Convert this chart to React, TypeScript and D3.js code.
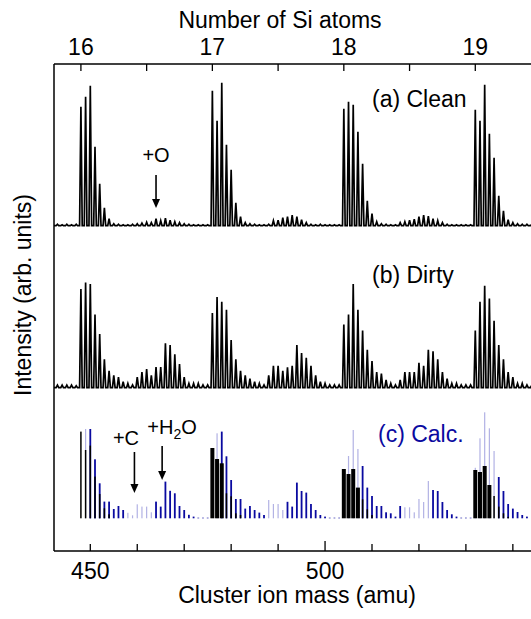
import React from 'react';
import * as d3 from 'd3';

// ---------- data ----------
const massStart = 443; // first mass (amu) of the spectra arrays

// (a) Clean spectrum, intensity per integer mass from 443 amu
const cleanIntensity = [
  1.5, 1, 1.5, 1, 1.5,
  119, 129, 140, 79, 42, 18, 7,
  2, 1.5, 1, 1, 1.5,
  2, 2.5, 3.5, 3, 7, 5, 7.5, 5.5, 4, 3, 2, 1.5, 1, 1, 1, 1,
  135, 105, 143, 81, 56, 23, 9,
  3, 2, 1.5, 1, 1, 1.5,
  5, 5.5, 8, 9, 10.5, 9, 6, 3, 1.5, 1, 1.5, 1, 1, 1, 1,
  117, 124, 121, 94, 62, 25, 12,
  4, 2, 1.5, 1, 1,
  3, 4, 5.5, 6.5, 9, 10.5, 9.5, 7, 5, 3, 1.5, 1, 1, 1, 1, 1,
  116, 105, 141, 92, 68, 30, 15,
  6, 3, 2, 1.5, 1.5, 1,
];

// (b) Dirty spectrum, intensity per integer mass from 443 amu
const dirtyIntensity = [
  2.5, 2.5, 2.5, 2.5, 2,
  98.7, 105.3, 103.7, 73.3, 53.7, 28.3, 17, 12.3, 10.7, 6, 4.3, 2.7,
  10.7, 15.7, 18.7, 12.3, 20.7, 20.7, 44.3, 42.7, 33.3, 23.7, 10.7, 4.3, 4.3, 4.3, 2.7, 2.7,
  74.7, 90.7, 86, 78, 47.7, 28.3, 17, 12.3, 9, 6, 4.3, 2.7,
  12.3, 22, 22, 17, 20.3, 22, 42.7, 34.7, 30, 22, 12.3, 6, 4.3, 2.7, 2.7, 2.7,
  63.3, 73.3, 103.7, 78, 57.3, 38, 26.7, 15.7, 14, 7.7, 4.3, 2.7,
  7.7, 15.7, 15.7, 15.7, 25, 22, 38, 36.3, 28.3, 15.7, 9, 4.3, 4.3, 2.7, 2.7, 2.7,
  57.3, 86, 102, 89.3, 67, 42.7, 28.3, 15.7, 10.7, 4.3, 4.3, 2.7, 2,
];

// (c) Calculated bars: [mass, intensity]
const calcSi: [number, number][] = [
  [448, 86.7], [449, 68.3], [450, 72.7], [451, 41.7], [452, 24.3], [453, 10], [454, 4],
  [476, 70.3], [477, 59.3], [478, 55], [479, 25], [480, 22], [481, 5], [482, 3.3],
  [504, 49.3], [505, 44.3], [506, 49.3], [507, 30.7], [508, 19], [509, 9], [510, 3.3],
  [532, 48.3], [533, 46.3], [534, 52.3], [535, 33.3], [536, 22.3], [537, 11.7], [538, 5], [539, 1.5],
];
const calcH2O: [number, number][] = [
  [450, 89.3], [451, 59], [452, 35], [453, 16.7], [454, 16.7], [455, 9.3], [456, 12.3], [457, 8.3],
  [464, 16.7], [465, 11.7], [466, 36.7], [467, 27.5], [468, 25], [469, 12.3], [470, 8.3], [471, 3.5],
  [472, 1.7], [473, 0.6], [474, 0.6], [475, 0.6],
  [478, 86.7], [479, 62], [480, 38.3], [481, 19.3], [482, 19.3], [483, 9.7], [484, 12.3], [485, 8.3],
  [486, 5.7], [487, 3.3],
  [492, 16.5], [493, 11.7], [494, 35.7], [495, 27.3], [496, 25.7], [497, 14.3], [498, 8.3], [499, 3.3],
  [500, 1.7], [501, 0.6], [502, 0.6], [503, 0.6],
  [508, 52.3], [509, 30.7], [510, 22.3], [511, 12.3], [512, 12.3], [513, 6], [514, 5], [515, 1.7], [516, 12.3],
  [523, 28.3], [524, 27.3], [525, 16.3], [526, 8.3], [527, 4], [528, 1.7], [529, 0.6], [530, 0.6], [531, 0.6],
  [537, 41.3], [538, 27.3], [539, 14.3], [540, 9.7], [541, 6.3], [542, 3.3], [543, 1.7],
];
const calcC: [number, number][] = [
  [449, 89.3],
  [458, 5.5], [459, 3], [460, 14], [461, 11.7], [462, 11.7], [463, 6],
  [477, 85],
  [488, 18.3], [489, 14.3], [490, 14.3], [491, 8.3],
  [505, 62.3], [506, 88.3], [507, 69.3],
  [517, 11], [518, 11], [519, 6], [520, 19.3], [521, 16.3], [522, 37.3],
  [532, 50.5], [533, 80], [534, 106], [535, 90], [536, 67.3],
];

const massTicks = [450, 460, 470, 480, 490, 500, 510, 520, 530, 540];
const massLabels = [450, 500];
const siTicks = [16, 16.5, 17, 17.5, 18, 18.5, 19];
const siLabels = [16, 17, 18, 19];
const siNominalMass = 28;

// ---------- layout ----------
const W = 531;
const H = 619;
const left = 54;
const top = 64;
const bottom = 551;
const baseA = 225.7;
const baseB = 387.7;
const baseC = 518.3;
const halfWidth = 0.28; // amu half-width of each spectral peak
const BLUE = '#0a0aa0';
const LAVENDER = '#b2b2e4';
const FONT = 'Arial, "Liberation Sans", Helvetica, sans-serif';
const FS = 23;

const x = d3.scaleLinear().domain([450, 500]).range([90.3, 325.05]);
const xMin = x.invert(left);
const xMax = x.invert(540);
const xSi = (n: number) => x(n * siNominalMass);

const yA = d3.scaleLinear().domain([0, 100]).range([baseA, baseA - 100]);
const yB = d3.scaleLinear().domain([0, 100]).range([baseB, baseB - 100]);
const yC = d3.scaleLinear().domain([0, 100]).range([baseC, baseC - 100]);

function spectrumPath(values: number[], y: d3.ScaleLinear<number, number>) {
  const pts: [number, number][] = [[xMin, 0]];
  values.forEach((v, i) => {
    const m = massStart + i;
    pts.push([m - halfWidth, 0], [m, v], [m + halfWidth, 0]);
  });
  pts.push([xMax, 0]);
  const line = d3
    .line<[number, number]>()
    .x((d) => x(d[0]))
    .y((d) => y(d[1]));
  return line(pts) || '';
}

function Arrow({ m, y1, y2 }: { m: number; y1: number; y2: number }) {
  const cx = x(m);
  return (
    <g>
      <line x1={cx} x2={cx} y1={y1} y2={y2 - 7} stroke="#000" strokeWidth={1.6} />
      <path d={`M${cx - 4},${y2 - 9} L${cx + 4},${y2 - 9} L${cx},${y2} Z`} fill="#000" />
    </g>
  );
}

export default function App() {
  return (
    <svg
      width={W}
      height={H}
      viewBox={`0 0 ${W} ${H}`}
      style={{ position: 'absolute', left: 0, top: 0, background: '#fff' }}
      fontFamily={FONT}
    >
      <rect x={0} y={0} width={W} height={H} fill="#fff" />

      {/* (c) calculated bars */}
      <g>
        {calcC.map(([m, v]) => (
          <rect key={'c' + m} x={x(m) - 0.6} width={1.2} y={yC(v)} height={yC(0) - yC(v)} fill={LAVENDER} />
        ))}
        {calcH2O.map(([m, v]) => (
          <rect key={'h' + m} x={x(m) - 0.9} width={1.8} y={yC(v)} height={yC(0) - yC(v)} fill={BLUE} />
        ))}
        {calcSi.map(([m, v]) => {
          const w = m > 470 && v >= 30 ? 4 : 1.5;
          return <rect key={'s' + m} x={x(m) - w / 2} width={w} y={yC(v)} height={yC(0) - yC(v)} fill="#000" />;
        })}
      </g>

      {/* spectra */}
      <path d={spectrumPath(cleanIntensity, yA)} fill="none" stroke="#000" strokeWidth={1.7} strokeLinejoin="miter" />
      <path d={spectrumPath(dirtyIntensity, yB)} fill="none" stroke="#000" strokeWidth={1.7} strokeLinejoin="miter" />

      {/* frame */}
      <line x1={left} x2={W + 5} y1={top} y2={top} stroke="#000" strokeWidth={1.5} />
      <line x1={left} x2={W + 5} y1={bottom} y2={bottom} stroke="#000" strokeWidth={1.5} />
      <line x1={left} x2={left} y1={top} y2={bottom} stroke="#000" strokeWidth={1.5} />

      {/* top axis */}
      {siTicks.map((n) => (
        <line key={'st' + n} x1={xSi(n)} x2={xSi(n)} y1={top} y2={top + 7} stroke="#000" strokeWidth={1.3} />
      ))}
      {siLabels.map((n) => (
        <text key={'sl' + n} x={xSi(n)} y={55} textAnchor="middle" fontSize={FS}>
          {n}
        </text>
      ))}
      <text x={280} y={28} textAnchor="middle" fontSize={FS}>
        Number of Si atoms
      </text>

      {/* bottom axis */}
      {massTicks.map((m) => (
        <line
          key={'mt' + m}
          x1={x(m)}
          x2={x(m)}
          y1={bottom}
          y2={bottom - (m === 500 ? 10 : 7)}
          stroke="#000"
          strokeWidth={1.3}
        />
      ))}
      {massLabels.map((m) => (
        <text key={'ml' + m} x={x(m)} y={579} textAnchor="middle" fontSize={FS}>
          {m}
        </text>
      ))}
      <text x={297} y={603} textAnchor="middle" fontSize={FS}>
        Cluster ion mass (amu)
      </text>

      {/* y label */}
      <text transform="translate(31,295) rotate(-90)" textAnchor="middle" fontSize={FS}>
        Intensity (arb. units)
      </text>

      {/* panel labels */}
      <text x={372} y={107} fontSize={FS}>
        (a) Clean
      </text>
      <text x={372} y={283} fontSize={FS}>
        (b) Dirty
      </text>
      <text x={378} y={442} fontSize={FS} fill={BLUE}>
        (c) Calc.
      </text>

      {/* annotations */}
      <text x={x(464)} y={162} textAnchor="middle" fontSize={20}>
        +O
      </text>
      <Arrow m={464} y1={175} y2={208} />

      <text x={126} y={445} textAnchor="middle" fontSize={20}>
        +C
      </text>
      <Arrow m={459.4} y1={452} y2={493} />

      <text x={172} y={434} textAnchor="middle" fontSize={20}>
        +H<tspan fontSize={14} dy={5}>2</tspan>
        <tspan dy={-5}>O</tspan>
      </text>
      <Arrow m={465.3} y1={446} y2={480} />
    </svg>
  );
}
